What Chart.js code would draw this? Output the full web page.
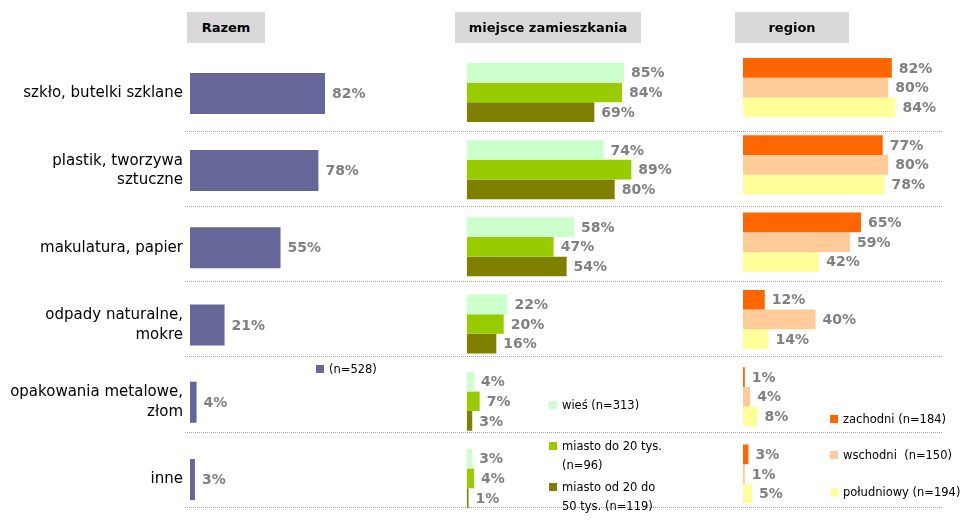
<!DOCTYPE html>
<html><head><meta charset="utf-8">
<script src="https://cdn.jsdelivr.net/npm/chart.js@4.4.1/dist/chart.umd.min.js"></script>
<style>
html,body{margin:0;padding:0;background:#fff;}
#wrap{position:relative;width:970px;height:520px;overflow:hidden;background:#fff;}
canvas{position:absolute;left:0;top:0;}
.ttl{position:absolute;top:12px;height:31px;background:#d9d9d9;font:bold 13px "DejaVu Sans",sans-serif;color:#000;display:flex;align-items:center;justify-content:center;}
</style></head><body>
<div id="wrap">
<canvas id="c1" width="970" height="520"></canvas>
<canvas id="c2" width="970" height="520"></canvas>
<canvas id="c3" width="970" height="520"></canvas>
<div class="ttl" id="t1" style="left:187px;width:78px"></div>
<div class="ttl" id="t2" style="left:455px;width:186px"></div>
<div class="ttl" id="t3" style="left:735px;width:114px"></div>
</div>
<script>
// ---- data ----
const CATEGORIES = ['szkło, butelki szklane', ['plastik, tworzywa','sztuczne'], 'makulatura, papier', ['odpady naturalne,','mokre'], ['opakowania metalowe,','złom'], 'inne'];
const PANEL_TITLES = ['Razem', 'miejsce zamieszkania', 'region'];
const RAZEM = [82, 78, 55, 21, 4, 3];
const WIES = [85, 74, 58, 22, 4, 3];
const MIASTO_DO_20 = [84, 89, 47, 20, 7, 4];
const MIASTO_20_50 = [69, 80, 54, 16, 3, 1];
const ZACHODNI = [82, 77, 65, 12, 1, 3];
const WSCHODNI = [80, 80, 59, 40, 4, 1];
const POLUDNIOWY = [84, 78, 42, 14, 8, 5];
const LEGEND_RAZEM = [['(n=528)']];
const LEGEND_MIEJSCE = [['wieś (n=313)'], ['miasto do 20 tys.', '(n=96)'], ['miasto od 20 do', '50 tys. (n=119)']];
const LEGEND_REGION = [['zachodni (n=184)'], ['wschodni  (n=150)'], ['południowy (n=194)']];

document.getElementById('t1').textContent = PANEL_TITLES[0];
document.getElementById('t2').textContent = PANEL_TITLES[1];
document.getElementById('t3').textContent = PANEL_TITLES[2];

Chart.defaults.font.family = "'DejaVu Sans', sans-serif";

const dataLabels = {
  id: 'dataLabels',
  afterDatasetsDraw(chart) {
    const ctx = chart.ctx;
    ctx.save();
    ctx.font = 'bold 14px "DejaVu Sans"';
    ctx.fillStyle = '#808080';
    ctx.textAlign = 'left';
    ctx.textBaseline = 'middle';
    chart.data.datasets.forEach((ds, i) => {
      chart.getDatasetMeta(i).data.forEach((el, j) => {
        ctx.fillText(ds.data[j] + '%', el.x + 7, el.y + 1);
      });
    });
    ctx.restore();
  }
};

const legendBoxes = {
  id: 'legendBoxes',
  afterDraw(chart, args, opts) {
    const ctx = chart.ctx;
    ctx.save();
    ctx.font = '11.5px "DejaVu Sans"';
    ctx.textAlign = 'left';
    ctx.textBaseline = 'middle';
    opts.items.forEach((it, i) => {
      const ds = chart.data.datasets[i];
      ctx.fillStyle = ds.backgroundColor;
      ctx.fillRect(it.x, it.y - 4, 8, 8);
      ctx.fillStyle = '#000';
      opts.lines[i].forEach((ln, k) => ctx.fillText(ln, it.x + 13, it.y + 1 + k * 19));
    });
    ctx.restore();
  }
};

const separators = {
  id: 'separators',
  beforeDatasetsDraw(chart, args, opts) {
    const ctx = chart.ctx;
    ctx.save();
    ctx.strokeStyle = '#a0a0a0';
    ctx.lineWidth = 1;
    ctx.setLineDash([1, 1]);
    for (let i = 0; i < opts.count; i++) {
      const y = Math.round(opts.first + i * opts.step) + 0.5;
      ctx.beginPath();
      ctx.moveTo(opts.x0, y);
      ctx.lineTo(opts.x1, y);
      ctx.stroke();
    }
    ctx.restore();
  }
};

function baseOptions(pad, showY) {
  return {
    indexAxis: 'y',
    responsive: false,
    animation: false,
    events: [],
    layout: { padding: pad },
    plugins: { legend: { display: false }, tooltip: { enabled: false }, title: { display: false } },
    scales: {
      x: { min: 0, max: 100, display: false },
      y: showY ? {
        position: 'left',
        grid: { display: false, drawTicks: false },
        border: { display: false },
        ticks: { color: '#000', padding: 7, font: { size: 15, lineHeight: 1.33 } },
        afterFit(scale) { scale.width = 190; scale.paddingTop = 0; scale.paddingBottom = 0; }
      } : { display: false }
    }
  };
}

// Panel 1: Razem
const o1 = baseOptions({ left: 0, right: 615.4, top: 54.8, bottom: 2 }, true);
o1.plugins.legendBoxes = { items: [{ x: 316, y: 369 }], lines: LEGEND_RAZEM };
o1.plugins.separators = { first: 131, step: 75.15, count: 6, x0: 185, x1: 943 };
new Chart(document.getElementById('c1'), {
  type: 'bar',
  data: {
    labels: CATEGORIES,
    datasets: [{ label: 'Razem', data: RAZEM, backgroundColor: '#666699', categoryPercentage: 0.531, barPercentage: 1 }]
  },
  options: o1,
  plugins: [separators, dataLabels, legendBoxes]
});

// Panel 2: miejsce zamieszkania
const o2 = baseOptions({ left: 466.7, right: 318.3, top: 53.9, bottom: 3 }, false);
o2.plugins.legendBoxes = { items: [{ x: 549, y: 405 }, { x: 549, y: 446 }, { x: 549, y: 487 }], lines: LEGEND_MIEJSCE };
new Chart(document.getElementById('c2'), {
  type: 'bar',
  data: {
    labels: CATEGORIES,
    datasets: [
      { label: LEGEND_MIEJSCE[0].join(' '), data: WIES, backgroundColor: '#CCFFCC', categoryPercentage: 0.764, barPercentage: 1 },
      { label: LEGEND_MIEJSCE[1].join(' '), data: MIASTO_DO_20, backgroundColor: '#99CC00', categoryPercentage: 0.764, barPercentage: 1 },
      { label: LEGEND_MIEJSCE[2].join(' '), data: MIASTO_20_50, backgroundColor: '#808000', categoryPercentage: 0.764, barPercentage: 1 }
    ]
  },
  options: o2,
  plugins: [dataLabels, legendBoxes]
});

// Panel 3: region
const o3 = baseOptions({ left: 743, right: 45.5, top: 48.9, bottom: 7.3 }, false);
o3.plugins.legendBoxes = { items: [{ x: 830, y: 419 }, { x: 830, y: 455 }, { x: 830, y: 492.5 }], lines: LEGEND_REGION };
new Chart(document.getElementById('c3'), {
  type: 'bar',
  data: {
    labels: CATEGORIES,
    datasets: [
      { label: LEGEND_REGION[0].join(' '), data: ZACHODNI, backgroundColor: '#FF6600', categoryPercentage: 0.764, barPercentage: 1 },
      { label: LEGEND_REGION[1].join(' '), data: WSCHODNI, backgroundColor: '#FFCC99', categoryPercentage: 0.764, barPercentage: 1 },
      { label: LEGEND_REGION[2].join(' '), data: POLUDNIOWY, backgroundColor: '#FFFF99', categoryPercentage: 0.764, barPercentage: 1 }
    ]
  },
  options: o3,
  plugins: [dataLabels, legendBoxes]
});
</script>
</body></html>
